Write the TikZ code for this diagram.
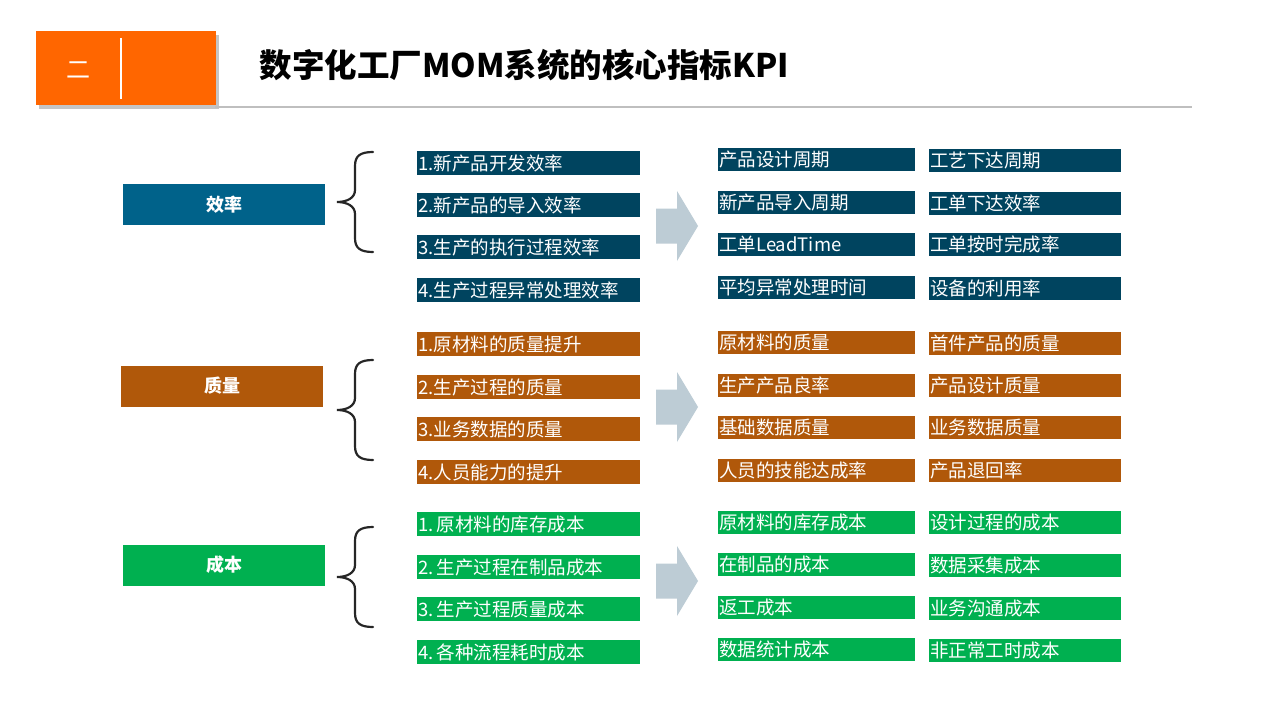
\documentclass[tikz,border=0pt]{standalone}
\usepackage{fontspec}
\setmainfont{Noto Sans CJK SC}
\usetikzlibrary{shadows}

\definecolor{effdark}{HTML}{00445F}
\definecolor{efflabel}{HTML}{00628A}
\definecolor{qualclr}{HTML}{B0580A}
\definecolor{costclr}{HTML}{00B050}
\definecolor{arrowclr}{HTML}{BDCCD5}
\definecolor{headorange}{HTML}{FF6600}
\definecolor{braceclr}{HTML}{262626}
\definecolor{ruleclr}{HTML}{BFBFBF}

\begin{document}
\begin{tikzpicture}[x=1pt,y=-1pt,
	midbox/.style={fill=#1,text=white,anchor=north west,text width=221pt,minimum height=24pt,inner sep=1pt,align=left,font=\fontsize{18.5}{20}\selectfont},
	kpibox/.style 2 args={fill=#1,text=white,anchor=north west,text width=#2,minimum height=23pt,inner sep=1pt,align=left,font=\fontsize{18.5}{20}\selectfont},
	labelbox/.style={fill=#1,text=white,minimum width=202pt,minimum height=41pt,inner sep=0pt,font=\bfseries\fontsize{18}{20}\selectfont},
	kbrace/.pic={\draw[line width=2.2pt,braceclr,line cap=round] (18,-50) .. controls (5,-50) and (0,-46) .. (0,-36) -- (0,-12) .. controls (0,-4) and (-8,0) .. (-18,0) .. controls (-8,0) and (0,4) .. (0,12) -- (0,36) .. controls (0,46) and (5,50) .. (18,50);},
	karrow/.pic={\fill[arrowclr] (-21,-17.5) -- (0,-17.5) -- (0,-35) -- (21,0) -- (0,35) -- (0,17.5) -- (-21,17.5) -- cycle;}]
	\fill[white] (0,0) rectangle (1280,720);
	\useasboundingbox (0,0) rectangle (1280,720);
	% header
	\node (numbox) [fill=headorange,minimum width=180pt,minimum height=74pt,inner sep=0pt,drop shadow={shadow xshift=3pt,shadow yshift=-4pt,opacity=0.45}] at (126,68) {};
	\node (num) [text=white,font=\fontsize{24}{26}\selectfont] at (78,70) {二};
	\draw[white,line width=2.5pt] (121,38) -- (121,99);
	\node (title) [anchor=west,font=\bfseries\fontsize{32.5}{34}\selectfont] at (256,65) {数字化工厂MOM系统的核心指标KPI};
	\draw[ruleclr,line width=1.2pt] (215,107) -- (1192,107);
	% efficiency
	\node (effic) [labelbox=efflabel] at (224,204.5) {效率};
	\pic at (355,202) {kbrace};
	\node (effic1) [midbox=effdark] at (417,151) {1.新产品开发效率};
	\node (effic2) [midbox=effdark] at (417,193) {2.新产品的导入效率};
	\node (effic3) [midbox=effdark] at (417,235) {3.生产的执行过程效率};
	\node (effic4) [midbox=effdark] at (417,278) {4.生产过程异常处理效率};
	\pic at (677,226) {karrow};
	\node (efficA1) [kpibox={effdark}{195pt}] at (718,148) {产品设计周期};
	\node (efficA2) [kpibox={effdark}{195pt}] at (718,191) {新产品导入周期};
	\node (efficA3) [kpibox={effdark}{195pt}] at (718,233) {工单LeadTime};
	\node (efficA4) [kpibox={effdark}{195pt}] at (718,276) {平均异常处理时间};
	\node (efficB1) [kpibox={effdark}{190pt}] at (929,149) {工艺下达周期};
	\node (efficB2) [kpibox={effdark}{190pt}] at (929,192) {工单下达效率};
	\node (efficB3) [kpibox={effdark}{190pt}] at (929,233) {工单按时完成率};
	\node (efficB4) [kpibox={effdark}{190pt}] at (929,277) {设备的利用率};
	% quality
	\node (qual) [labelbox=qualclr] at (222,386) {质量};
	\pic at (355,410) {kbrace};
	\node (qual1) [midbox=qualclr] at (417,332) {1.原材料的质量提升};
	\node (qual2) [midbox=qualclr] at (417,375) {2.生产过程的质量};
	\node (qual3) [midbox=qualclr] at (417,417) {3.业务数据的质量};
	\node (qual4) [midbox=qualclr] at (417,460) {4.人员能力的提升};
	\pic at (677,407) {karrow};
	\node (qualA1) [kpibox={qualclr}{195pt}] at (718,331) {原材料的质量};
	\node (qualA2) [kpibox={qualclr}{195pt}] at (718,374) {生产产品良率};
	\node (qualA3) [kpibox={qualclr}{195pt}] at (718,416) {基础数据质量};
	\node (qualA4) [kpibox={qualclr}{195pt}] at (718,459) {人员的技能达成率};
	\node (qualB1) [kpibox={qualclr}{190pt}] at (929,332) {首件产品的质量};
	\node (qualB2) [kpibox={qualclr}{190pt}] at (929,374) {产品设计质量};
	\node (qualB3) [kpibox={qualclr}{190pt}] at (929,416) {业务数据质量};
	\node (qualB4) [kpibox={qualclr}{190pt}] at (929,459) {产品退回率};
	% cost
	\node (cost) [labelbox=costclr] at (224,565) {成本};
	\pic at (355,577) {kbrace};
	\node (cost1) [midbox=costclr] at (417,512) {1.\,原材料的库存成本};
	\node (cost2) [midbox=costclr] at (417,555) {2.\,生产过程在制品成本};
	\node (cost3) [midbox=costclr] at (417,597) {3.\,生产过程质量成本};
	\node (cost4) [midbox=costclr] at (417,640) {4.\,各种流程耗时成本};
	\pic at (677,581) {karrow};
	\node (costA1) [kpibox={costclr}{195pt}] at (718,511) {原材料的库存成本};
	\node (costA2) [kpibox={costclr}{195pt}] at (718,553) {在制品的成本};
	\node (costA3) [kpibox={costclr}{195pt}] at (718,596) {返工成本};
	\node (costA4) [kpibox={costclr}{195pt}] at (718,638) {数据统计成本};
	\node (costB1) [kpibox={costclr}{190pt}] at (929,511) {设计过程的成本};
	\node (costB2) [kpibox={costclr}{190pt}] at (929,554) {数据采集成本};
	\node (costB3) [kpibox={costclr}{190pt}] at (929,597) {业务沟通成本};
	\node (costB4) [kpibox={costclr}{190pt}] at (929,639) {非正常工时成本};
\end{tikzpicture}
\end{document}
